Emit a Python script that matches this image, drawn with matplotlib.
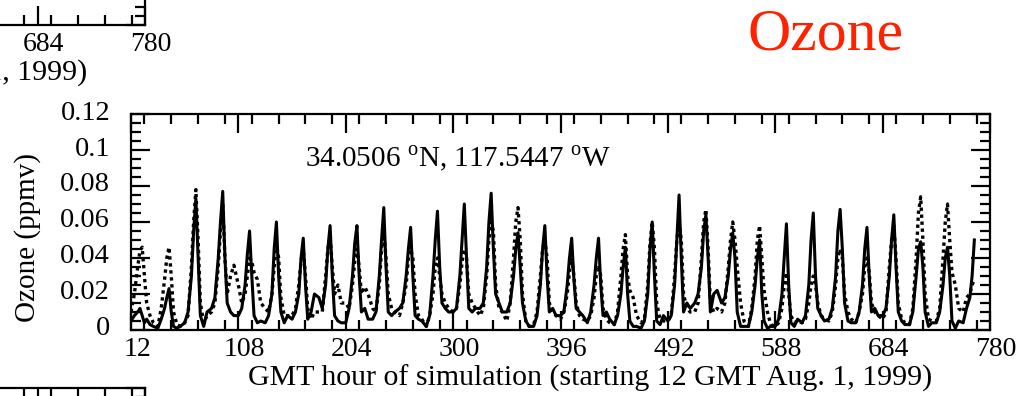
import matplotlib
matplotlib.use('Agg')
import matplotlib.pyplot as plt
from matplotlib.ticker import MultipleLocator, FixedLocator, FixedFormatter
from matplotlib.transforms import ScaledTranslation

plt.rcParams['font.family'] = ['Liberation Serif', 'DejaVu Serif']
plt.rcParams['mathtext.fontset'] = 'custom'
plt.rcParams['mathtext.rm'] = 'Liberation Serif'

# sample hours: 9 per day (offsets from 12 GMT), last day cut short
offsets = [0, 3, 6, 8, 10, 12, 14, 17, 20]
hours = [12 + 24 * d + o for d in range(31) for o in offsets] + [756, 759, 762, 764, 766]

# solid line (ppmv), one row per day
solid = [
    0.005, 0.008, 0.010, 0.012, 0.008, 0.004, 0.006, 0.003, 0.002,
    0.001, 0.006, 0.012, 0.018, 0.023, 0.010, 0.002, 0.001, 0.002,
    0.004, 0.010, 0.030, 0.055, 0.073, 0.040, 0.008, 0.002, 0.010,
    0.012, 0.018, 0.040, 0.060, 0.077, 0.040, 0.015, 0.010, 0.008,
    0.008, 0.012, 0.025, 0.042, 0.055, 0.030, 0.008, 0.004, 0.005,
    0.004, 0.008, 0.020, 0.045, 0.060, 0.030, 0.010, 0.004, 0.008,
    0.006, 0.010, 0.020, 0.040, 0.051, 0.025, 0.006, 0.010, 0.020,
    0.018, 0.012, 0.025, 0.045, 0.058, 0.030, 0.008, 0.005, 0.004,
    0.004, 0.012, 0.030, 0.048, 0.058, 0.030, 0.010, 0.012, 0.006,
    0.006, 0.010, 0.030, 0.050, 0.068, 0.035, 0.010, 0.008, 0.010,
    0.012, 0.015, 0.030, 0.045, 0.057, 0.030, 0.008, 0.006, 0.005,
    0.002, 0.008, 0.030, 0.050, 0.066, 0.035, 0.015, 0.012, 0.010,
    0.010, 0.012, 0.030, 0.050, 0.070, 0.040, 0.012, 0.010, 0.012,
    0.012, 0.015, 0.035, 0.060, 0.076, 0.045, 0.020, 0.015, 0.010,
    0.010, 0.015, 0.030, 0.045, 0.054, 0.035, 0.015, 0.005, 0.002,
    0.002, 0.008, 0.025, 0.045, 0.058, 0.030, 0.010, 0.012, 0.008,
    0.008, 0.010, 0.025, 0.040, 0.051, 0.028, 0.012, 0.010, 0.008,
    0.004, 0.010, 0.025, 0.040, 0.051, 0.025, 0.008, 0.010, 0.006,
    0.003, 0.008, 0.020, 0.035, 0.046, 0.020, 0.005, 0.002, 0.002,
    0.001, 0.005, 0.020, 0.045, 0.060, 0.030, 0.005, 0.003, 0.008,
    0.005, 0.008, 0.025, 0.050, 0.075, 0.040, 0.010, 0.015, 0.012,
    0.015, 0.020, 0.035, 0.055, 0.064, 0.040, 0.010, 0.020, 0.022,
    0.015, 0.018, 0.030, 0.045, 0.054, 0.040, 0.010, 0.002, 0.002,
    0.002, 0.010, 0.025, 0.040, 0.050, 0.020, 0.005, 0.001, 0.002,
    0.002, 0.006, 0.020, 0.040, 0.059, 0.025, 0.004, 0.002, 0.006,
    0.004, 0.008, 0.025, 0.050, 0.065, 0.030, 0.012, 0.008, 0.005,
    0.006, 0.012, 0.030, 0.055, 0.067, 0.045, 0.015, 0.005, 0.004,
    0.004, 0.010, 0.025, 0.045, 0.057, 0.030, 0.010, 0.012, 0.008,
    0.008, 0.012, 0.030, 0.050, 0.064, 0.035, 0.010, 0.005, 0.003,
    0.003, 0.010, 0.030, 0.045, 0.049, 0.035, 0.010, 0.002, 0.004,
    0.004, 0.010, 0.025, 0.040, 0.046, 0.030, 0.005, 0.001, 0.005,
    0.004, 0.012, 0.018, 0.030, 0.050,
]

# dotted line (ppmv)
dotted = [
    0.010, 0.020, 0.035, 0.044, 0.046, 0.030, 0.015, 0.008, 0.004,
    0.002, 0.012, 0.028, 0.040, 0.046, 0.030, 0.010, 0.003, 0.002,
    0.004, 0.008, 0.035, 0.060, 0.078, 0.050, 0.015, 0.004, 0.008,
    0.010, 0.015, 0.035, 0.055, 0.070, 0.040, 0.020, 0.030, 0.036,
    0.025, 0.015, 0.020, 0.030, 0.040, 0.038, 0.032, 0.028, 0.015,
    0.012, 0.010, 0.020, 0.035, 0.048, 0.040, 0.018, 0.008, 0.008,
    0.008, 0.012, 0.025, 0.038, 0.045, 0.030, 0.012, 0.006, 0.010,
    0.010, 0.010, 0.030, 0.045, 0.052, 0.035, 0.020, 0.025, 0.015,
    0.015, 0.012, 0.025, 0.038, 0.045, 0.035, 0.020, 0.024, 0.020,
    0.012, 0.010, 0.025, 0.045, 0.055, 0.040, 0.020, 0.012, 0.010,
    0.008, 0.015, 0.025, 0.040, 0.045, 0.040, 0.020, 0.008, 0.006,
    0.002, 0.008, 0.020, 0.035, 0.040, 0.030, 0.020, 0.015, 0.012,
    0.010, 0.012, 0.025, 0.038, 0.045, 0.040, 0.020, 0.015, 0.012,
    0.008, 0.012, 0.030, 0.050, 0.060, 0.055, 0.025, 0.012, 0.010,
    0.005, 0.015, 0.040, 0.060, 0.068, 0.050, 0.020, 0.005, 0.002,
    0.003, 0.010, 0.030, 0.045, 0.050, 0.040, 0.015, 0.010, 0.008,
    0.006, 0.010, 0.020, 0.032, 0.040, 0.030, 0.015, 0.008, 0.006,
    0.005, 0.008, 0.018, 0.030, 0.036, 0.030, 0.012, 0.006, 0.004,
    0.003, 0.010, 0.030, 0.045, 0.053, 0.030, 0.022, 0.018, 0.008,
    0.004, 0.006, 0.025, 0.048, 0.060, 0.045, 0.015, 0.006, 0.005,
    0.005, 0.008, 0.030, 0.050, 0.060, 0.050, 0.020, 0.012, 0.010,
    0.010, 0.015, 0.040, 0.060, 0.067, 0.045, 0.015, 0.010, 0.012,
    0.010, 0.015, 0.035, 0.050, 0.060, 0.050, 0.035, 0.015, 0.005,
    0.002, 0.012, 0.030, 0.050, 0.058, 0.040, 0.022, 0.010, 0.003,
    0.002, 0.004, 0.012, 0.025, 0.032, 0.020, 0.008, 0.004, 0.005,
    0.004, 0.006, 0.015, 0.025, 0.030, 0.025, 0.015, 0.008, 0.006,
    0.005, 0.010, 0.025, 0.040, 0.045, 0.040, 0.020, 0.010, 0.006,
    0.004, 0.010, 0.020, 0.035, 0.040, 0.032, 0.015, 0.010, 0.008,
    0.006, 0.010, 0.035, 0.050, 0.058, 0.040, 0.015, 0.006, 0.004,
    0.003, 0.012, 0.040, 0.065, 0.074, 0.050, 0.020, 0.006, 0.005,
    0.005, 0.012, 0.040, 0.060, 0.070, 0.050, 0.032, 0.025, 0.012,
    0.010, 0.018, 0.020, 0.025, 0.028,
]

xticks = [12, 108, 204, 300, 396, 492, 588, 684, 780]
xtick_labels = ['12', '108', '204', '300', '396', '492', '588', '684', '780']
yticks = [0, 0.02, 0.04, 0.06, 0.08, 0.1, 0.12]
ytick_labels = ['0', '0.02', '0.04', '0.06', '0.08', '0.1', '0.12']
xlabel = 'GMT hour of simulation (starting 12 GMT Aug. 1, 1999)'


def style_axes(ax, fig):
    ax.set_xlim(12, 780)
    ax.set_ylim(0, 0.12)
    ax.xaxis.set_major_locator(FixedLocator(xticks))
    ax.xaxis.set_major_formatter(FixedFormatter(xtick_labels))
    ax.xaxis.set_minor_locator(MultipleLocator(24))
    ax.yaxis.set_major_locator(FixedLocator(yticks))
    ax.yaxis.set_major_formatter(FixedFormatter(ytick_labels))
    ax.yaxis.set_minor_locator(MultipleLocator(0.005))
    ax.tick_params(which='both', direction='in', top=True, right=True, width=1.6)
    ax.tick_params(which='major', length=13.5)
    ax.tick_params(which='minor', length=7)
    ax.tick_params(axis='x', labelsize=20, pad=5)
    ax.tick_params(axis='y', labelsize=20.5, pad=15)
    for s in ax.spines.values():
        s.set_linewidth(1.6)
    # labels in the original sit a little right of / above their ticks
    for lab in ax.get_xticklabels():
        lab.set_transform(lab.get_transform() + ScaledTranslation(0.06, 0, fig.dpi_scale_trans))
    for lab in ax.get_yticklabels():
        lab.set_transform(lab.get_transform() + ScaledTranslation(0, 0.04, fig.dpi_scale_trans))


fig = plt.figure(figsize=(10.36, 3.96), dpi=100)

# neighbouring panels of the original multi-panel figure, cut off by the crop
ax_top = fig.add_axes([-0.68919, 0.93687, 0.82915, 0.54545])
ax_top.xaxis.set_major_formatter(FixedFormatter([''] * 7 + xtick_labels[-2:]))
style_axes(ax_top, fig)
# only the last two tick labels fall inside the crop
ax_top.xaxis.set_major_formatter(FixedFormatter([''] * 7 + xtick_labels[-2:]))
ax_top.tick_params(labelleft=False)
ax_top.set_xlabel(xlabel, fontsize=21.5)
ax_top.xaxis.set_label_coords(0.535, -0.222)
ax_top.xaxis.label.set_va('center')

ax_bot = fig.add_axes([-0.68919, -0.52525, 0.82915, 0.54545])
style_axes(ax_bot, fig)
ax_bot.tick_params(labelleft=False, labelbottom=False)

ax = fig.add_axes([0.12645, 0.16667, 0.82915, 0.54545])
style_axes(ax, fig)
ax.plot(hours, solid, color='black', lw=2.2)
ax.plot(hours, dotted, color='black', lw=2.4, linestyle=(0, (1, 1.1)))

ax.set_xlabel(xlabel, fontsize=21.5)
ax.xaxis.set_label_coords(0.535, -0.222)
ax.xaxis.label.set_va('center')
ax.set_ylabel('Ozone (ppmv)', fontsize=21)
ax.yaxis.set_label_coords(-0.12, 0.43)
ax.yaxis.label.set_va('center')

ax.text(0.2026, 0.796, '34.0506 $^{\\rm o}$N, 117.5447 $^{\\rm o}$W',
        transform=ax.transAxes, fontsize=21, ha='left', va='center')

fig.text(826 / 1036, 1 - 36 / 396, 'Ozone', color='#ff2200', fontsize=43,
         ha='center', va='center')

fig.savefig('out.png', dpi=100)
